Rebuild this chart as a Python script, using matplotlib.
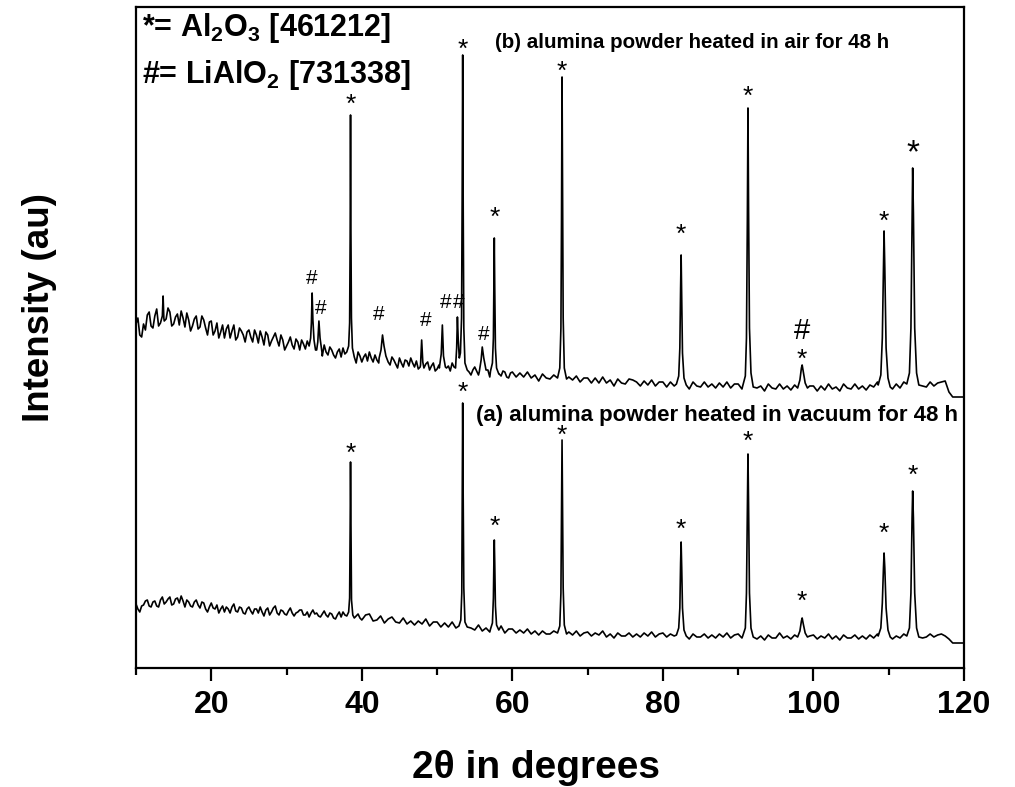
import numpy as np
import matplotlib
matplotlib.use("Agg")
import matplotlib.pyplot as plt

plt.rcParams['font.family'] = ['Liberation Sans', 'DejaVu Sans']
plt.rcParams['mathtext.fontset'] = 'custom'
plt.rcParams['mathtext.rm'] = 'Liberation Sans:bold'
plt.rcParams['mathtext.bf'] = 'Liberation Sans:bold'
plt.rcParams['mathtext.it'] = 'Liberation Sans:bold'

# Baseline grid (2theta, 0.5 deg steps) and intensities
base_x = np.arange(10, 120.001, 0.5)

# (b) heated in air
air_base = [
    344, 333, 344, 353, 342, 352, 342, 358, 349, 356,
    344, 354, 357, 341, 348, 342, 352, 341, 348, 333,
    347, 337, 330, 343, 339, 330, 343, 331, 337, 326,
    338, 326, 333, 337, 323, 333, 327, 335, 322, 328,
    322, 331, 319, 326, 328, 319, 315, 325, 321, 314,
    323, 313, 318, 310, 319, 320, 308, 315, 309, 316,
    306, 314, 316, 306, 308, 314, 302, 310, 311, 304,
    310, 301, 307, 310, 301, 299, 307, 304, 298, 305,
    299, 305, 296, 302, 305, 297, 295, 302, 299, 293,
    301, 293, 301, 294, 291, 299, 299, 292, 296, 290,
    296, 291, 295, 291, 296, 290, 293, 287, 294, 290,
    289, 293, 288, 291, 286, 291, 288, 292, 286, 290,
    290, 285, 290, 285, 291, 285, 288, 282, 289, 285,
    284, 289, 288, 286, 282, 287, 283, 288, 282, 286,
    286, 281, 286, 282, 288, 282, 284, 279, 286, 282,
    281, 286, 281, 284, 280, 285, 281, 286, 280, 284,
    284, 279, 284, 280, 286, 280, 282, 277, 284, 280,
    279, 284, 279, 282, 278, 283, 279, 284, 278, 282,
    282, 277, 282, 278, 284, 279, 281, 277, 284, 280,
    279, 284, 279, 282, 278, 283, 281, 286, 280, 284,
    284, 279, 284, 280, 286, 281, 284, 279, 286, 282,
    281, 286, 282, 285, 286, 287, 276, 271, 271, 271,
    271,
]
# extra noisy points between the grid points (10.25 .. 59.75)
air_mid_x = np.arange(10.25, 60, 0.5)
air_mid = [
    350, 331, 338, 356, 340, 359, 345, 347, 360, 342,
    351, 343, 350, 355, 337, 349, 339, 352, 340, 346,
    333, 345, 336, 330, 343, 337, 328, 340, 333, 336,
    331, 338, 325, 331, 336, 322, 331, 328, 333, 318,
    326, 323, 329, 318, 324, 327, 320, 318, 320, 312,
    316, 321, 313, 316, 311, 314, 312, 312, 305, 312,
    311, 307, 310, 313, 305, 315, 310, 303, 308, 300,
    305, 308, 302, 305, 307, 301, 300, 306, 302, 297,
    303, 300, 300, 297, 301, 300, 300, 300, 296, 298,
    297, 300, 300, 298, 300, 300, 294, 297, 291, 295,
]

# (a) heated in vacuum
vac_base = [
    64, 56, 63, 68, 61, 67, 61, 71, 66, 71,
    64, 70, 72, 61, 66, 61, 68, 60, 65, 56,
    65, 59, 55, 62, 61, 55, 64, 56, 60, 54,
    61, 54, 59, 61, 52, 60, 56, 62, 53, 57,
    53, 60, 52, 56, 58, 53, 51, 58, 55, 51,
    57, 51, 54, 49, 56, 56, 49, 53, 49, 54,
    48, 53, 54, 47, 48, 52, 45, 49, 51, 46,
    45, 50, 44, 47, 43, 47, 44, 49, 42, 46,
    46, 41, 45, 41, 46, 40, 43, 37, 44, 40,
    38, 43, 37, 40, 36, 40, 37, 42, 35, 39,
    39, 35, 38, 35, 39, 34, 37, 33, 37, 34,
    34, 37, 33, 36, 33, 36, 33, 37, 32, 35,
    36, 32, 35, 33, 37, 31, 34, 30, 35, 32,
    32, 35, 31, 34, 31, 35, 32, 36, 31, 34,
    35, 31, 34, 32, 36, 30, 33, 29, 34, 31,
    31, 34, 30, 33, 30, 34, 31, 35, 30, 33,
    34, 30, 33, 31, 35, 29, 32, 28, 33, 30,
    30, 35, 30, 32, 29, 33, 30, 31, 29, 32,
    33, 29, 32, 30, 34, 29, 32, 28, 33, 30,
    30, 33, 29, 32, 29, 33, 30, 34, 29, 32,
    33, 29, 32, 30, 34, 29, 32, 28, 33, 30,
    31, 34, 31, 33, 34, 32, 29, 25, 25, 25,
    25,
]
vac_mid_x = np.arange(10.25, 40, 0.5)
vac_mid = [
    59, 62, 67, 62, 66, 62, 68, 64, 69, 63,
    69, 65, 67, 68, 62, 66, 63, 66, 59, 61,
    60, 63, 59, 56, 59, 61, 57, 61, 55, 59,
    57, 59, 55, 56, 58, 53, 60, 55, 58, 54,
    57, 55, 55, 58, 53, 56, 55, 54, 52, 54,
    53, 55, 50, 53, 51, 53, 51, 50, 52, 50,
]

# peak profiles (2theta, intensity)
air_peaks = [
    [(13.5, 352), (13.6, 372), (13.7, 350)],
    [(33.0, 322), (33.2, 330), (33.3, 345), (33.4, 375), (33.5, 348), (33.65, 328), (33.85, 318)],
    [(34.0, 318), (34.15, 326), (34.3, 347), (34.45, 330), (34.7, 316)],
    [(38.0, 316), (38.25, 322), (38.38, 345), (38.45, 430), (38.5, 553), (38.55, 440), (38.62, 350), (38.75, 320), (39.0, 311)],
    [(42.3, 310), (42.55, 318), (42.75, 333), (42.95, 322), (43.2, 312), (43.5, 306)],
    [(47.8, 303), (47.95, 328), (48.1, 306)],
    [(50.3, 300), (50.55, 314), (50.7, 343), (50.85, 312), (51.1, 301)],
    [(52.45, 300), (52.6, 320), (52.7, 351), (52.8, 330), (52.95, 310), (53.1, 315), (53.25, 350),
     (53.33, 470), (53.4, 613), (53.47, 460), (53.55, 340), (53.7, 305), (54.0, 298)],
    [(55.6, 296), (55.85, 308), (56.0, 321), (56.2, 310), (56.5, 298)],
    [(57.1, 297), (57.35, 305), (57.48, 330), (57.55, 390), (57.6, 430), (57.66, 380), (57.75, 320), (57.9, 300), (58.2, 294)],
    [(66.0, 290), (66.3, 300), (66.45, 340), (66.53, 450), (66.6, 591), (66.67, 470), (66.75, 350), (66.9, 300), (67.2, 289)],
    [(81.8, 284), (82.1, 292), (82.25, 320), (82.35, 380), (82.42, 413), (82.5, 370), (82.6, 315), (82.8, 290), (83.1, 283)],
    [(90.6, 282), (90.95, 292), (91.1, 330), (91.22, 450), (91.3, 560), (91.38, 460), (91.5, 340), (91.7, 295), (92.0, 281)],
    [(97.9, 280), (98.2, 288), (98.4, 300), (98.5, 303), (98.65, 296), (98.9, 285), (99.2, 280)],
    [(108.6, 283), (108.95, 293), (109.15, 330), (109.3, 400), (109.38, 437), (109.48, 400), (109.65, 320), (109.9, 290), (110.2, 281)],
    [(112.4, 284), (112.75, 295), (112.95, 340), (113.1, 450), (113.18, 500), (113.28, 455), (113.45, 340), (113.7, 295), (114.0, 283)],
]

vac_peaks = [
    [(38.0, 52), (38.25, 56), (38.38, 70), (38.45, 140), (38.5, 206), (38.56, 140), (38.63, 68), (38.8, 53), (39.0, 50)],
    [(52.9, 42), (53.15, 48), (53.28, 75), (53.35, 180), (53.4, 265), (53.46, 180), (53.55, 80), (53.7, 46), (54.0, 41)],
    [(57.1, 39), (57.35, 45), (57.48, 70), (57.55, 110), (57.6, 128), (57.66, 105), (57.75, 62), (57.9, 43), (58.2, 38)],
    [(66.0, 35), (66.3, 42), (66.45, 75), (66.53, 160), (66.6, 228), (66.67, 165), (66.75, 80), (66.9, 43), (67.2, 34)],
    [(81.8, 33), (82.1, 40), (82.25, 60), (82.35, 105), (82.42, 126), (82.5, 100), (82.6, 60), (82.8, 38), (83.1, 32)],
    [(90.6, 32), (90.95, 40), (91.1, 75), (91.22, 160), (91.3, 214), (91.38, 165), (91.5, 75), (91.7, 40), (92.0, 31)],
    [(97.9, 31), (98.2, 37), (98.4, 47), (98.5, 50), (98.65, 44), (98.9, 35), (99.2, 31)],
    [(108.6, 32), (108.95, 40), (109.15, 65), (109.3, 100), (109.38, 115), (109.48, 100), (109.65, 60), (109.9, 38), (110.2, 31)],
    [(112.4, 32), (112.75, 40), (112.95, 75), (113.1, 150), (113.18, 177), (113.28, 150), (113.45, 75), (113.7, 40), (114.0, 31)],
]

# phase markers
air_star_x = [38.5, 53.4, 57.6, 66.6, 82.4, 91.3, 98.5, 109.4]
air_star_y = [563, 618, 450, 596, 433, 571, 308, 446]
air_bigstar = (113.2, 514)
air_hash_x = [33.4, 34.6, 42.3, 48.5, 51.1, 52.9, 56.2]
air_hash_y = [390, 360, 353, 348, 366, 366, 334]
air_bighash = (98.5, 337)
vac_star_x = [38.5, 53.4, 57.6, 66.6, 82.4, 91.3, 98.5, 109.4, 113.2]
vac_star_y = [214, 275, 141, 232, 138, 226, 66, 134, 192]


def build_trace(base_y, mid_x, mid_y, peaks):
    bx = np.concatenate([base_x, mid_x])
    by = np.concatenate([np.array(base_y, dtype=float), np.array(mid_y, dtype=float)])
    keep = np.ones(len(bx), dtype=bool)
    for pk in peaks:
        keep &= ~((bx >= pk[0][0]) & (bx <= pk[-1][0]))
    px = [p[0] for pk in peaks for p in pk]
    py = [p[1] for pk in peaks for p in pk]
    x = np.concatenate([bx[keep], px])
    y = np.concatenate([by[keep], py])
    order = np.argsort(x, kind='stable')
    return x[order], y[order]


fig = plt.figure(figsize=(10.15, 7.87), dpi=100)
ax = fig.add_axes([136 / 1015, 119 / 787, 828 / 1015, 661 / 787])

for base, mx, my, peaks in [(air_base, air_mid_x, air_mid, air_peaks),
                            (vac_base, vac_mid_x, vac_mid, vac_peaks)]:
    x, y = build_trace(base, mx, my, peaks)
    ax.plot(x, y, color='black', lw=1.2)

ax.set_xlim(10, 120)
ax.set_ylim(0, 661)
ax.set_xticks([20, 40, 60, 80, 100, 120])
ax.set_xticks(np.arange(10, 121, 10), minor=True)
ax.set_yticks([])
for s in ax.spines.values():
    s.set_linewidth(1.6)
ax.tick_params(axis='x', which='major', length=9, width=1.6, pad=7, labelsize=23)
ax.tick_params(axis='x', which='minor', length=5, width=1.6)
for lab in ax.get_xticklabels():
    lab.set_fontweight('bold')

fig.text(536 / 1015, 1 - 768 / 787, '2\u03b8 in degrees', fontsize=28, fontweight='bold',
         ha='center', va='center')
fig.text(40 / 1015, 1 - 308 / 787, 'Intensity (au)', fontsize=26.5, fontweight='bold',
         rotation=90, ha='center', va='center')

# legend-like notes
ax.text(0.007, 0.968, r'*= Al$_{2}$O$_{3}$ [461212]', transform=ax.transAxes,
        fontsize=22, fontweight='bold', ha='left', va='center')
ax.text(0.007, 0.897, r'#= LiAlO$_{2}$ [731338]', transform=ax.transAxes,
        fontsize=22, fontweight='bold', ha='left', va='center')
ax.text(57.7, 626, '(b) alumina powder heated in air for 48 h', fontsize=14.8,
        fontweight='bold', ha='left', va='center')
ax.text(119.2, 253, '(a) alumina powder heated in vacuum for 48 h', fontsize=16,
        fontweight='bold', ha='right', va='center')

for xs, ys in [(air_star_x, air_star_y), (vac_star_x, vac_star_y)]:
    for sx, sy in zip(xs, ys):
        ax.text(sx, sy, '*', fontsize=19, ha='center', va='center')
ax.text(air_bigstar[0], air_bigstar[1], '*', fontsize=24, ha='center', va='center')
for hx, hy in zip(air_hash_x, air_hash_y):
    ax.text(hx, hy, '#', fontsize=15, ha='center', va='center')
ax.text(air_bighash[0], air_bighash[1], '#', fontsize=21, ha='center', va='center')

fig.savefig('out.png', dpi=100)
